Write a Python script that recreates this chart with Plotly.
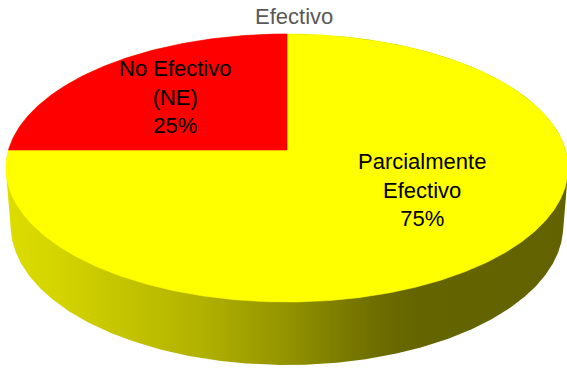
import numpy as np
import plotly.graph_objects as go

# Chart data
title = "Efectivo"
categories = ["Parcialmente Efectivo", "No Efectivo (NE)"]
label_lines = ["Parcialmente<br>Efectivo", "No Efectivo<br>(NE)"]
values = [75, 25]
slice_colors = ["#FFFF00", "#FF0000"]

# Canvas and 3D-view settings (pixels)
W, H = 567, 368
CX, CY = 287.0, 150.0          # screen position of the pie centre
F = 1830.0                      # focal length
D0 = 6.57                       # camera distance (in pie radii)
TILT = np.radians(28.2)         # elevation of the view
THICK = 0.237                   # pie thickness (in pie radii)

# Label placement inside each slice: (angle nudge in degrees, radius fraction)
label_place = [(-13.0, 0.55), (0.0, 0.60)]


def project(X, Y, Z):
    """Perspective projection of pie-space points to screen pixels."""
    depth = D0 + Y * np.cos(TILT) - Z * np.sin(TILT)
    sx = CX + F * X / depth
    sy = CY - F * (Y * np.sin(TILT) + Z * np.cos(TILT)) / depth
    return sx, sy


def convex_hull(pts):
    pts = sorted(set(pts))
    def cross(o, a, b):
        return (a[0] - o[0]) * (b[1] - o[1]) - (a[1] - o[1]) * (b[0] - o[0])
    lower, upper = [], []
    for p in pts:
        while len(lower) >= 2 and cross(lower[-2], lower[-1], p) <= 0:
            lower.pop()
        lower.append(p)
    for p in reversed(pts):
        while len(upper) >= 2 and cross(upper[-2], upper[-1], p) <= 0:
            upper.pop()
        upper.append(p)
    return lower[:-1] + upper[:-1]


fig = go.Figure()

# Side wall: silhouette of top and bottom rims, shaded left-to-right
t = np.linspace(0, 2 * np.pi, 720, endpoint=False)
tx, ty = project(np.sin(t), np.cos(t), 0.0)
bx, by = project(np.sin(t), np.cos(t), -THICK)
hull = convex_hull([(round(a, 3), round(b, 3)) for a, b in zip(np.r_[tx, bx], np.r_[ty, by])])
hx = [p[0] for p in hull] + [hull[0][0]]
hy = [p[1] for p in hull] + [hull[0][1]]
fig.add_trace(go.Scatter(
    x=hx, y=hy, mode="lines", fill="toself", line=dict(width=0),
    fillgradient=dict(
        type="horizontal", start=0, stop=W,
        colorscale=[[0.0, "rgb(222,222,0)"], [0.1, "rgb(212,212,0)"],
                    [0.35, "rgb(178,178,0)"], [0.5, "rgb(148,148,0)"],
                    [0.67, "rgb(108,108,0)"], [0.75, "rgb(100,100,0)"],
                    [1.0, "rgb(98,98,0)"]]),
    hoverinfo="skip", showlegend=False))

# Top face slices, clockwise from 12 o'clock
total = float(sum(values))
start = 0.0
annotations = []
for name, lines, v, col, (nudge, rad) in zip(categories, label_lines, values,
                                             slice_colors, label_place):
    sweep = 2 * np.pi * v / total
    ang = np.linspace(start, start + sweep, max(int(v * 8), 20))
    px, py = project(np.sin(ang), np.cos(ang), 0.0)
    xs = np.r_[CX, px, CX]
    ys = np.r_[CY, py, CY]
    fig.add_trace(go.Scatter(
        x=xs, y=ys, mode="lines", fill="toself", fillcolor=col,
        line=dict(width=0.6, color=col), name=name,
        hoverinfo="name", showlegend=False))
    mid = start + sweep / 2 + np.radians(nudge)
    lx, ly = project(rad * np.sin(mid), rad * np.cos(mid), 0.0)
    pct = f"{round(v / total * 100)}%"
    annotations.append(dict(
        x=float(lx), y=float(ly), xref="x", yref="y",
        text=f"{lines}<br>{pct}", showarrow=False, align="center",
        xanchor="center", yanchor="middle",
        font=dict(family="Liberation Sans", size=22, color="#000000")))
    start += sweep

annotations.append(dict(
    x=294, y=16, xref="x", yref="y", text=title, showarrow=False,
    xanchor="center", yanchor="middle",
    font=dict(family="Liberation Sans", size=22, color="#595959")))

fig.update_layout(
    width=W, height=H, autosize=False,
    margin=dict(l=0, r=0, t=0, b=0),
    paper_bgcolor="#FFFFFF", plot_bgcolor="#FFFFFF",
    xaxis=dict(range=[0, W], visible=False, fixedrange=True),
    yaxis=dict(range=[H, 0], visible=False, fixedrange=True),
    annotations=annotations, showlegend=False)

fig.write_html("out.html")
